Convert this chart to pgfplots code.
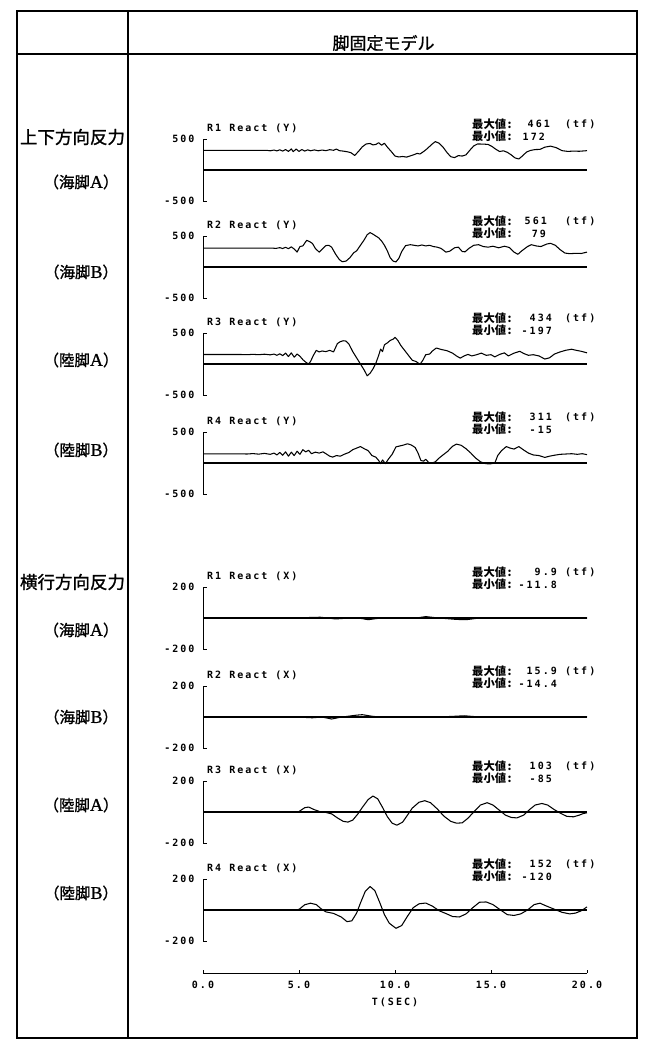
\documentclass[border=0pt]{standalone}
\usepackage{fontspec}
\usepackage{pgfplots}
\pgfplotsset{compat=1.18}
\setmainfont{Liberation Serif}
\newfontfamily\jp{Noto Sans CJK JP}
\newfontfamily\jpf{Noto Sans CJK JP}[FakeBold=1.2]
\newfontfamily\rmf{Liberation Serif}[FakeBold=1]
\newfontfamily\pf{DejaVu Sans Mono}[LetterSpace=20]
\newcommand\pfs{\pf\bfseries\fontsize{10}{11}\selectfont}
\newcommand\jps{\jp\bfseries\fontsize{11.3}{13}\selectfont}
\newcommand\jpL{\jpf\fontsize{17.5}{20}\selectfont}
\newcommand\jpM{\jpf\fontsize{15.5}{18}\selectfont}

\pgfplotsset{panel/.style={scale only axis, width=384pt, height=62pt, xmin=0, xmax=20,
  clip=false,
  axis x line=none, axis y line=left, axis line style={-, line width=1pt, black},
  tick align=inside, major tick length=4pt, xtick=\empty,
  tick style={line width=1pt, black},
  yticklabel style={font=\pfs, xshift=-5pt}}}
\pgfplotsset{sig/.style={black, mark=none, line width=1.05pt, line join=round},
  zl/.style={black, line width=1.1pt}}

% #1 top, #2 title, #3 max, #4 min, #5 right edge max, #6 right edge min
\newcommand\annot[6]{%
\node[anchor=west,inner sep=0,font=\pfs] at (207pt,{11pt-#1pt}) {#2};
\node[anchor=west,inner sep=0,font=\jps] at (472pt,{15pt-#1pt}) {最大値\hspace{1.5pt}:};
\node[anchor=west,inner sep=0,font=\jps] at (472pt,{2.5pt-#1pt}) {最小値\hspace{1.5pt}:};
\node[anchor=east,inner sep=0,font=\pfs] at (#5pt,{15pt-#1pt}) {#3};
\node[anchor=east,inner sep=0,font=\pfs] at (#6pt,{2.5pt-#1pt}) {#4};
\node[anchor=west,inner sep=0,font=\pfs] at (565pt,{15pt-#1pt}) {(tf)};}
\newcommand\leg[3]{\node[inner sep=0] at (81pt,-#1pt) {\jpM （#2{\rmf\fontsize{18}{20}\selectfont #3}）};}

\begin{document}
\begin{tikzpicture}
\path[use as bounding box] (0,0) rectangle (650pt,-1052pt);
% frame
\draw[line width=1.2pt] (17pt,-11pt) rectangle (637pt,-1038pt);
\draw[line width=1.2pt] (128pt,-11pt) -- (128pt,-1038pt);
\draw[line width=1.2pt] (17pt,-54pt) -- (637pt,-54pt);
\node[font=\jpf\fontsize{17}{20}\selectfont] at (383.5pt,-43pt) {脚固定モデル};
% left labels
\node[font=\jpL, inner sep=0] at (72.5pt,-137pt) {上下方向反力};
\leg{182}{海脚}{A}
\leg{272}{海脚}{B}
\leg{360}{陸脚}{A}
\leg{450}{陸脚}{B}
\node[font=\jpL, inner sep=0] at (72.5pt,-582pt) {横行方向反力};
\leg{630}{海脚}{A}
\leg{717}{海脚}{B}
\leg{805}{陸脚}{A}
\leg{893}{陸脚}{B}

% annotations
\annot{139}{R1 React (Y)}{461}{172}{550}{545}
\annot{236}{R2 React (Y)}{561}{79}{547}{546}
\annot{333}{R3 React (Y)}{434}{-197}{552}{552}
\annot{432}{R4 React (Y)}{311}{-15}{552}{552}
\annot{587}{R1 React (X)}{9.9}{-11.8}{557}{557}
\annot{686}{R2 React (X)}{15.9}{-14.4}{557}{557}
\annot{781}{R3 React (X)}{103}{-85}{552}{552}
\annot{879}{R4 React (X)}{152}{-120}{552}{552}

% Panel 1
\begin{axis}[panel, at={(203pt,-139pt)}, anchor=north west, ymin=-500, ymax=500, ytick={-500,500}, yticklabels={-500,500}]
\addplot[zl] coordinates {(0,0) (20,0)};
\addplot[sig] coordinates {(0,315) (3.0,315) (3.3,318) (3.5,310) (3.7,322) (3.85,308) (4.0,326) (4.15,305) (4.3,330) (4.45,300) (4.6,340) (4.7,296) (4.85,338) (5.0,300) (5.15,330) (5.3,305) (5.45,325) (5.6,310) (5.8,324) (6.0,310) (6.2,322) (6.4,312) (6.6,328) (6.8,318) (6.95,338) (7.1,312) (7.3,305) (7.5,295) (7.7,280) (7.9,235) (8.1,300) (8.3,375) (8.5,420) (8.7,428) (8.85,405) (9.0,412) (9.15,440) (9.3,400) (9.45,432) (9.6,370) (9.8,300) (10.0,225) (10.2,210) (10.4,218) (10.6,208) (10.8,228) (11.0,248) (11.15,268) (11.3,258) (11.5,300) (11.7,350) (11.9,410) (12.1,458) (12.3,432) (12.5,370) (12.7,285) (12.9,215) (13.1,200) (13.3,232) (13.5,225) (13.7,245) (13.9,320) (14.1,388) (14.3,420) (14.6,418) (14.85,412) (15.05,380) (15.25,335) (15.45,298) (15.65,310) (15.85,285) (16.05,245) (16.25,195) (16.45,178) (16.65,230) (16.85,290) (17.05,315) (17.3,330) (17.55,332) (17.8,368) (18.1,385) (18.4,360) (18.7,312) (19.0,300) (19.3,305) (19.6,302) (20,312)};
\end{axis}

% Panel 2
\begin{axis}[panel, at={(203pt,-236pt)}, anchor=north west, ymin=-500, ymax=500, ytick={-500,500}, yticklabels={-500,500}]
\addplot[zl] coordinates {(0,0) (20,0)};
\addplot[sig] coordinates {(0,305) (3.6,305) (3.8,300) (4.0,312) (4.15,298) (4.3,318) (4.45,295) (4.6,325) (4.75,290) (4.9,240) (5.05,330) (5.2,340) (5.4,430) (5.55,410) (5.7,380) (5.85,300) (6.05,240) (6.25,300) (6.4,345) (6.55,350) (6.7,320) (6.9,210) (7.1,120) (7.25,85) (7.45,95) (7.65,150) (7.85,230) (8.0,260) (8.2,350) (8.4,440) (8.55,520) (8.7,555) (8.85,530) (9.0,500) (9.15,470) (9.3,420) (9.45,350) (9.6,260) (9.75,150) (9.9,95) (10.05,82) (10.2,140) (10.35,250) (10.55,345) (10.8,360) (11.0,350) (11.2,340) (11.4,355) (11.6,340) (11.8,350) (12.0,330) (12.2,320) (12.4,300) (12.65,240) (12.85,255) (13.1,310) (13.3,320) (13.5,250) (13.65,245) (13.85,300) (14.1,350) (14.35,360) (14.6,330) (14.85,320) (15.1,335) (15.4,310) (15.7,335) (15.95,315) (16.2,240) (16.4,205) (16.6,260) (16.9,330) (17.1,360) (17.35,340) (17.6,330) (17.9,370) (18.1,382) (18.35,350) (18.6,280) (18.85,225) (19.1,215) (19.4,220) (19.7,218) (20,240)};
\end{axis}

% Panel 3
\begin{axis}[panel, at={(203pt,-333pt)}, anchor=north west, ymin=-500, ymax=500, ytick={-500,500}, yticklabels={-500,500}]
\addplot[zl] coordinates {(0,0) (20,0)};
\addplot[sig] coordinates {(0,153) (2.0,153) (2.3,150) (2.6,156) (2.9,150) (3.2,158) (3.5,148) (3.7,160) (3.85,140) (4.0,165) (4.15,135) (4.3,175) (4.45,120) (4.6,180) (4.75,110) (4.9,160) (5.05,125) (5.2,70) (5.35,30) (5.5,0) (5.6,40) (5.75,140) (5.9,220) (6.05,195) (6.2,210) (6.4,200) (6.6,220) (6.8,195) (7.0,330) (7.15,360) (7.3,375) (7.45,370) (7.6,320) (7.8,200) (8.0,100) (8.2,0) (8.4,-100) (8.55,-190) (8.7,-150) (8.85,-80) (9.0,10) (9.15,140) (9.25,240) (9.35,200) (9.45,310) (9.6,340) (9.75,380) (9.9,400) (10.0,430) (10.15,380) (10.3,300) (10.5,220) (10.7,140) (10.9,60) (11.1,40) (11.3,-5) (11.45,60) (11.6,150) (11.8,160) (11.95,210) (12.15,258) (12.4,235) (12.7,215) (13.0,175) (13.2,130) (13.4,95) (13.6,130) (13.8,155) (14.0,130) (14.25,150) (14.5,175) (14.75,140) (15.0,150) (15.2,115) (15.45,155) (15.7,180) (15.9,130) (16.2,175) (16.5,205) (16.7,170) (16.95,140) (17.2,150) (17.5,130) (17.8,80) (18.05,100) (18.3,160) (18.6,195) (18.9,222) (19.2,238) (19.45,220) (19.7,205) (20,180)};
\end{axis}

% Panel 4
\begin{axis}[panel, at={(203pt,-432pt)}, anchor=north west, ymin=-500, ymax=500, ytick={-500,500}, yticklabels={-500,500}]
\addplot[zl] coordinates {(0,0) (20,0)};
\addplot[sig] coordinates {(0,147) (2.0,147) (2.3,145) (2.6,152) (2.9,143) (3.2,155) (3.5,140) (3.7,160) (3.85,130) (4.0,170) (4.15,125) (4.3,180) (4.45,110) (4.6,175) (4.75,120) (4.9,190) (5.05,140) (5.2,215) (5.35,180) (5.5,205) (5.65,150) (5.85,175) (6.05,160) (6.25,180) (6.45,140) (6.6,110) (6.75,95) (6.95,120) (7.15,110) (7.35,140) (7.6,170) (7.8,215) (8.0,240) (8.2,265) (8.4,230) (8.6,200) (8.8,120) (9.0,95) (9.15,40) (9.25,-10) (9.35,50) (9.5,-10) (9.65,60) (9.85,140) (10.05,260) (10.25,275) (10.45,290) (10.65,310) (10.85,290) (11.05,250) (11.2,160) (11.35,40) (11.5,30) (11.6,60) (11.75,10) (11.9,-5) (12.1,20) (12.3,80) (12.5,130) (12.75,190) (13.0,270) (13.2,305) (13.45,285) (13.7,230) (13.95,160) (14.2,80) (14.45,20) (14.7,-10) (14.95,-15) (15.2,0) (15.35,120) (15.55,200) (15.8,265) (16.0,240) (16.2,225) (16.45,265) (16.7,210) (16.95,160) (17.2,130) (17.5,120) (17.8,90) (18.05,110) (18.3,125) (18.6,140) (18.9,145) (19.2,150) (19.5,140) (19.75,150) (20,135)};
\end{axis}

% Panel 5
\begin{axis}[panel, at={(203pt,-587pt)}, anchor=north west, ymin=-200, ymax=200, ytick={-200,200}, yticklabels={-200,200}]
\addplot[zl] coordinates {(0,0) (20,0)};
\addplot[sig] coordinates {(0,0) (4.5,0) (5.0,1) (5.5,3) (6.1,5) (6.5,0) (6.9,-6) (7.4,-2) (7.9,3) (8.3,-4) (8.6,-11) (9.0,-4) (9.5,2) (10.0,3) (10.5,0) (11.0,-2) (11.6,9) (12.2,1) (12.7,-4) (13.2,-9) (13.7,-11) (14.2,-3) (14.7,1) (15.3,2) (16,0) (17,1) (18,-1) (19,0) (20,0)};
\end{axis}

% Panel 6
\begin{axis}[panel, at={(203pt,-686pt)}, anchor=north west, ymin=-200, ymax=200, ytick={-200,200}, yticklabels={-200,200}]
\addplot[zl] coordinates {(0,0) (20,0)};
\addplot[sig] coordinates {(0,0) (4.5,0) (5.2,-2) (5.7,-5) (6.2,0) (6.7,-13) (7.1,-3) (7.5,4) (8.0,12) (8.3,15) (8.8,5) (9.3,-2) (10,-3) (10.7,1) (11.4,-1) (12.2,0) (13.0,4) (13.6,8) (14.2,2) (15,0) (16,1) (17,0) (18,-1) (19,0) (20,1)};
\end{axis}

% Panel 7
\begin{axis}[panel, at={(203pt,-781pt)}, anchor=north west, ymin=-200, ymax=200, ytick={-200,200}, yticklabels={-200,200}]
\addplot[zl] coordinates {(0,0) (20,0)};
\addplot[sig] coordinates {(0,0) (4.7,0) (5.0,3) (5.3,28) (5.5,32) (5.8,15) (6.1,2) (6.4,-3) (6.7,-12) (7.0,-38) (7.3,-60) (7.55,-65) (7.8,-52) (8.05,-15) (8.3,30) (8.6,80) (8.85,103) (9.1,85) (9.35,30) (9.6,-30) (9.85,-72) (10.1,-85) (10.4,-65) (10.65,-20) (10.9,25) (11.25,63) (11.55,73) (11.85,60) (12.2,20) (12.55,-27) (12.9,-60) (13.2,-72) (13.5,-70) (13.8,-40) (14.1,0) (14.45,45) (14.8,60) (15.1,45) (15.45,10) (15.75,-20) (16.05,-35) (16.35,-38) (16.7,-20) (17.0,15) (17.3,45) (17.65,55) (17.95,45) (18.3,15) (18.65,-10) (18.95,-28) (19.3,-31) (19.6,-20) (19.8,-10) (20,-5)};
\end{axis}

% Panel 8
\begin{axis}[panel, at={(203pt,-879pt)}, anchor=north west, ymin=-200, ymax=200, ytick={-200,200}, yticklabels={-200,200}]
\addplot[zl] coordinates {(0,0) (20,0)};
\addplot[sig] coordinates {(0,0) (4.8,0) (5.0,4) (5.3,34) (5.6,44) (5.9,35) (6.15,8) (6.4,-12) (6.8,-22) (7.2,-45) (7.5,-75) (7.75,-70) (8.0,-20) (8.2,45) (8.45,120) (8.7,152) (8.95,125) (9.2,50) (9.45,-30) (9.7,-85) (10.05,-118) (10.35,-100) (10.65,-40) (10.95,15) (11.25,40) (11.6,45) (11.95,25) (12.3,-5) (12.6,-20) (13.0,-42) (13.35,-45) (13.7,-25) (14.05,15) (14.4,50) (14.75,52) (15.1,35) (15.5,0) (15.85,-30) (16.2,-35) (16.55,-25) (16.9,0) (17.25,35) (17.55,44) (17.9,25) (18.3,5) (18.7,-15) (19.1,-25) (19.4,-20) (19.7,-5) (20,20)};
\end{axis}

% time axis
\begin{axis}[scale only axis, width=384pt, height=10pt, at={(203pt,-973pt)}, anchor=south west,
  xmin=0, xmax=20, ymin=0, ymax=1, axis x line=bottom, axis y line=none,
  axis line style={-, line width=1pt, black}, tick align=inside, major tick length=3pt,
  tick style={line width=1pt, black}, xtick={0,5,10,15,20},
  xticklabels={0.0,5.0,10.0,15.0,20.0}, xticklabel style={font=\pfs, yshift=-5pt}]
\addplot[draw=none] coordinates {(0,0.5) (20,0.5)};
\end{axis}
\node[font=\pfs] at (395pt,-1002pt) {T(SEC)};
\end{tikzpicture}
\end{document}
